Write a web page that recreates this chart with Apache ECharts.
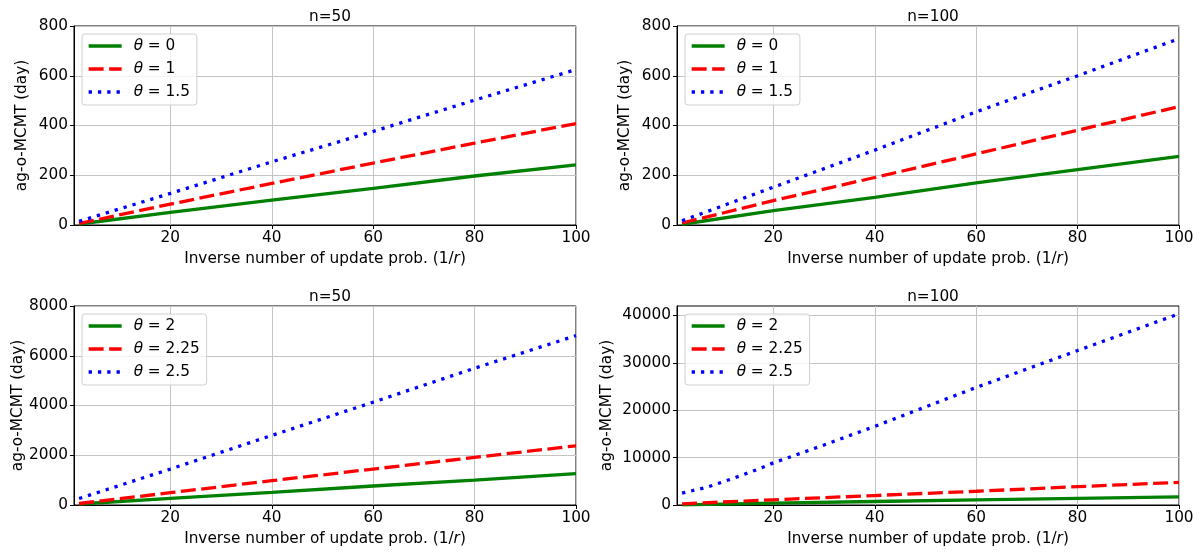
<!DOCTYPE html>
<html>
<head>
<meta charset="utf-8">
<script src="https://cdn.jsdelivr.net/npm/echarts@6/dist/echarts.min.js"></script>
<style>
  html, body { margin: 0; padding: 0; background: #fff; }
  #main { width: 1200px; height: 552px; }
</style>
</head>
<body>
<div id="main"></div>
<script>
// x positions (1/r)
var xs = [2, 20, 40, 60, 80, 100];

// top-left, n=50
var tl_theta0 = [4, 51, 100, 147, 197, 242];
var tl_theta1 = [6, 84, 167, 249, 329, 408];
var tl_theta15 = [15, 127, 254, 376, 502, 625];

// top-right, n=100
var tr_theta0 = [3, 58, 111, 169, 223, 276];
var tr_theta1 = [8, 98, 191, 286, 381, 476];
var tr_theta15 = [17, 152, 301, 455, 600, 749];

// bottom-left, n=50
var bl_theta2 = [40, 268, 508, 763, 1003, 1258];
var bl_theta225 = [60, 495, 977, 1445, 1913, 2381];
var bl_theta25 = [260, 1445, 2796, 4134, 5498, 6810];

// bottom-right, n=100
var br_theta2 = [40, 380, 740, 1080, 1400, 1730];
var br_theta225 = [250, 1100, 2000, 2900, 3870, 4780];
var br25_x = [2, 7, 10.5, 14, 17, 20, 30, 40, 60, 80, 100];
var br_theta25 = [2500, 3780, 5040, 6370, 7560, 8890, 12670, 16600, 24800, 32600, 40350];

var xTicks = [20, 40, 60, 80, 100];
var titles = ['n=50', 'n=100', 'n=50', 'n=100'];
var topNames = ['θ = 0', 'θ = 1', 'θ = 1.5'];
var bottomNames = ['θ = 2', 'θ = 2.25', 'θ = 2.5'];
var yMax = [800, 800, 8000, 42000];
var yTicks = [
  [0, 200, 400, 600, 800],
  [0, 200, 400, 600, 800],
  [0, 2000, 4000, 6000, 8000],
  [0, 10000, 20000, 30000, 40000]
];

var font = 'DejaVu Sans';
var fs = 15.3;
var gridColor = '#c4c4c4';
var green = '#008000', red = '#ff0000', blue = '#0000ff';
var styles = [
  { color: green, width: 3.3, type: 'solid' },
  { color: red, width: 3.3, type: [15, 5.5] },
  { color: blue, width: 3.3, type: [3.3, 6] }
];

var grids = [
  { left: 74, top: 26, width: 502, height: 199 },
  { left: 677, top: 26, width: 502, height: 199 },
  { left: 74, top: 306, width: 502, height: 199 },
  { left: 677, top: 306, width: 502, height: 199 }
];

function pairs(x, y) {
  return x.map(function (v, i) { return [v, y[i]]; });
}

var seriesData = [
  [pairs(xs, tl_theta0), pairs(xs, tl_theta1), pairs(xs, tl_theta15)],
  [pairs(xs, tr_theta0), pairs(xs, tr_theta1), pairs(xs, tr_theta15)],
  [pairs(xs, bl_theta2), pairs(xs, bl_theta225), pairs(xs, bl_theta25)],
  [pairs(xs, br_theta2), pairs(xs, br_theta225), pairs(br25_x, br_theta25)]
];

var option = {
  animation: false,
  backgroundColor: '#fff',
  title: [],
  grid: [],
  xAxis: [],
  yAxis: [],
  legend: [],
  series: []
};

grids.forEach(function (g, k) {
  option.grid.push({
    left: g.left, top: g.top, width: g.width, height: g.height,
    show: true, borderColor: '#000', borderWidth: 1, backgroundColor: 'transparent'
  });
  option.title.push({
    text: titles[k],
    left: g.left + g.width / 2,
    top: g.top - 21,
    textAlign: 'center',
    textStyle: { fontFamily: font, fontSize: fs, fontWeight: 'normal', color: '#000' }
  });
  option.xAxis.push({
    type: 'value',
    gridIndex: k,
    min: 1,
    max: 100,
    name: 'Inverse number of update prob. (1/{i|r})',
    nameLocation: 'middle',
    nameGap: 27,
    nameTextStyle: {
      fontFamily: font, fontSize: fs, color: '#000',
      rich: { i: { fontFamily: font, fontSize: fs, fontStyle: 'italic', color: '#000' } }
    },
    axisLine: { show: true, lineStyle: { color: '#000', width: 1 } },
    axisTick: { show: true, length: 4, customValues: xTicks, lineStyle: { color: '#000' } },
    axisLabel: { customValues: xTicks, margin: 6, fontFamily: font, fontSize: fs, color: '#000' },
    splitLine: { show: true, lineStyle: { color: gridColor, width: 1 } }
  });
  option.yAxis.push({
    type: 'value',
    gridIndex: k,
    min: 0,
    max: yMax[k],
    name: 'ag-o-MCMT (day)',
    nameLocation: 'middle',
    nameGap: k === 3 ? 62 : 44,
    nameTextStyle: { fontFamily: font, fontSize: fs, color: '#000' },
    axisLine: { show: true, lineStyle: { color: '#000', width: 1 } },
    axisTick: { show: true, length: 4, customValues: yTicks[k], lineStyle: { color: '#000' } },
    axisLabel: {
      customValues: yTicks[k], margin: 6, fontFamily: font, fontSize: fs, color: '#000',
      formatter: function (v) { return String(v); }
    },
    splitLine: { show: true, lineStyle: { color: gridColor, width: 1 } }
  });
  var names = k < 2 ? topNames : bottomNames;
  option.legend.push({
    left: g.left + 8,
    top: g.top + 8,
    orient: 'vertical',
    data: names,
    itemWidth: 33,
    itemHeight: 14,
    itemGap: 5,
    padding: [3, 7, 4, 5],
    backgroundColor: 'rgba(255,255,255,0.8)',
    borderColor: '#d0d0d0',
    borderWidth: 1,
    borderRadius: 3,
    lineStyle: { width: 3.3 },
    itemStyle: { opacity: 0 },
    formatter: function (name) {
      return '{i|θ}' + name.slice(1);
    },
    textStyle: {
      fontFamily: font, fontSize: fs, lineHeight: 18, color: '#000', padding: [0, 0, 0, 7],
      rich: { i: { fontFamily: font, fontSize: fs, lineHeight: 18, fontStyle: 'italic', color: '#000' } }
    }
  });
  seriesData[k].forEach(function (d, j) {
    option.series.push({
      name: names[j],
      type: 'line',
      xAxisIndex: k,
      yAxisIndex: k,
      data: d,
      symbol: 'none',
      smooth: false,
      lineStyle: { color: styles[j].color, width: styles[j].width, type: styles[j].type, cap: 'butt' },
      itemStyle: { color: styles[j].color }
    });
  });
});

var chart = echarts.init(document.getElementById('main'), null, { renderer: 'canvas' });
chart.setOption(option);
</script>
</body>
</html>
